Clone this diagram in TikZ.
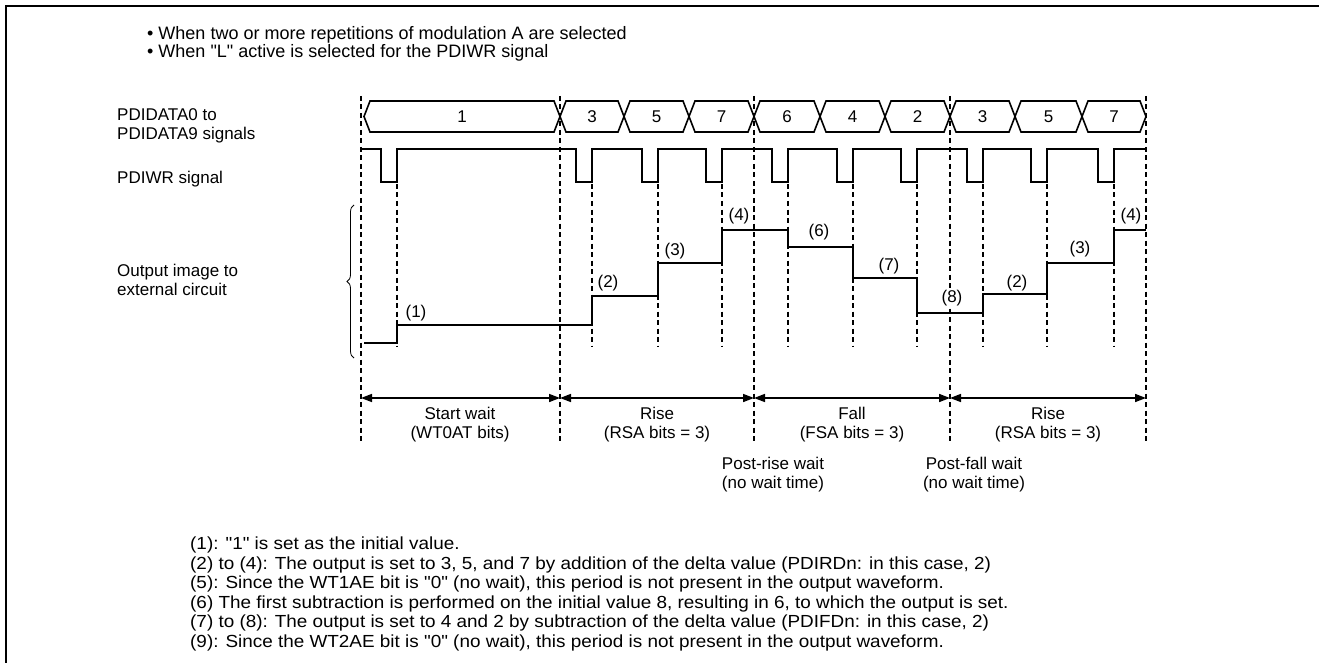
\documentclass[tikz,border=0pt]{standalone}
\usepackage{fontspec}
\setmainfont{Liberation Sans}[Ligatures=TeXOff]
\newfontfamily\widesans{Liberation Sans}[Ligatures=TeXOff, FakeStretch=1.08]
\usetikzlibrary{arrows.meta, positioning, calc, decorations.pathreplacing}

\begin{document}
\begin{tikzpicture}[
    x=1pt, y=-1pt,
    txt/.style={inner sep=0pt, font=\fontsize{17}{19}\selectfont},
    big/.style={inner sep=0pt, font=\fontsize{18}{18}\selectfont},
    note/.style={inner sep=0pt, font=\widesans\fontsize{17.5}{19.5}\selectfont},
    wave/.style={line width=1.6pt, line join=miter},
    guide/.style={line width=1.1pt, dash pattern=on 5pt off 3.5pt},
    span/.style={{Triangle[length=11pt,width=8pt]}-{Triangle[length=11pt,width=8pt]}, line width=1.6pt},
  ]
  \useasboundingbox (0,0) rectangle (1319,663);
  \draw[line width=2.2pt] (6,663) -- (6,6) -- (1319,6);

  \node[big, anchor=west] (cond1) at (147,35) {• When two or more repetitions of modulation A are selected};
  \node[big, anchor=west] (cond2) at (147,53) {• When "L" active is selected for the PDIWR signal};

  \node[txt, anchor=west, align=left] (busname) at (117,126) {PDIDATA0 to\\PDIDATA9 signals};
  \node[txt, anchor=west] (wrname) at (117,179) {PDIWR signal};
  \node[txt, anchor=west, align=left] (outname) at (117,280) {Output image to\\external circuit};
  \draw[decorate, decoration={brace, amplitude=7pt}, line width=0.8pt] (354,358) -- (354,205);

  % period boundaries and write strobes
  \foreach \x [count=\i from 0] in {361,560,754,950,1146} {
    \draw[guide] (\x,96) -- (\x,442);
    \coordinate (m\i) at (\x,398);
  }
  \foreach \x in {397,592,658,722,788,853,917,983,1047,1114}
    \draw[guide] (\x,184) -- (\x,347);

  \foreach \a/\b/\v [count=\i] in {364/560/1, 560/624/3, 624/689/5, 689/754/7, 754/820/6,
                                   820/885/4, 885/950/2, 950/1015/3, 1015/1082/5, 1082/1146/7} {
    \draw[wave] (\a,116.5) -- (\a+6,101) -- (\b-6,101) -- (\b,116.5) -- (\b-6,132) -- (\a+6,132) -- cycle;
    \node[txt] (val\i) at ({(\a+\b)/2},116.5) {\v};
  }

  \draw[wave] (361,149) foreach \r in {397,592,658,722,788,853,917,983,1047,1114} {
    -- (\r-16,149) -- (\r-16,182) -- (\r,182) -- (\r,149) } -- (1146,149);

  \draw[wave] (364,343) foreach \r/\h in {397/325, 592/296, 658/263, 722/230, 788/247,
                                          853/278, 917/313, 983/294, 1047/263, 1114/230} {
    -| (\r,\h) } -- (1146,230);

  \foreach \x/\y/\t [count=\i] in {416/313/1, 608/283/2, 675/251/3, 739/216/4, 819/232/6,
                                   889/266/7, 1017/283/2, 1080/249/3, 1131/216/4}
    \node[txt] (step\i) at (\x,\y) {(\t)};
  \node[txt, fill=white, inner sep=1pt] (step8) at (952,298) {(8)};

  \draw[span] (m0) -- (m1);
  \draw[span] (m1) -- (m2);
  \draw[span] (m2) -- (m3);
  \draw[span] (m3) -- (m4);

  \node[txt, align=center] (phase1) at (460,425) {Start wait\\(WT0AT bits)};
  \node[txt, align=center] (phase2) at (657,425) {Rise\\(RSA bits = 3)};
  \node[txt, align=center] (phase3) at (852,425) {Fall\\(FSA bits = 3)};
  \node[txt, align=center] (phase4) at (1048,425) {Rise\\(RSA bits = 3)};
  \node[txt, align=center] (wait1) at (773,475) {Post-rise wait\\(no wait time)};
  \node[txt, align=center] (wait2) at (974,475) {Post-fall wait\\(no wait time)};

  \node[note, anchor=north west, align=left] (notes) at (190,537) {%
    (1): "1" is set as the initial value.\\
    (2) to (4): The output is set to 3, 5, and 7 by addition of the delta value (PDIRDn: in this case, 2)\\
    (5): Since the WT1AE bit is "0" (no wait), this period is not present in the output waveform.\\
    (6) The first subtraction is performed on the initial value 8, resulting in 6, to which the output is set.\\
    (7) to (8): The output is set to 4 and 2 by subtraction of the delta value (PDIFDn: in this case, 2)\\
    (9): Since the WT2AE bit is "0" (no wait), this period is not present in the output waveform.};
\end{tikzpicture}
\end{document}
